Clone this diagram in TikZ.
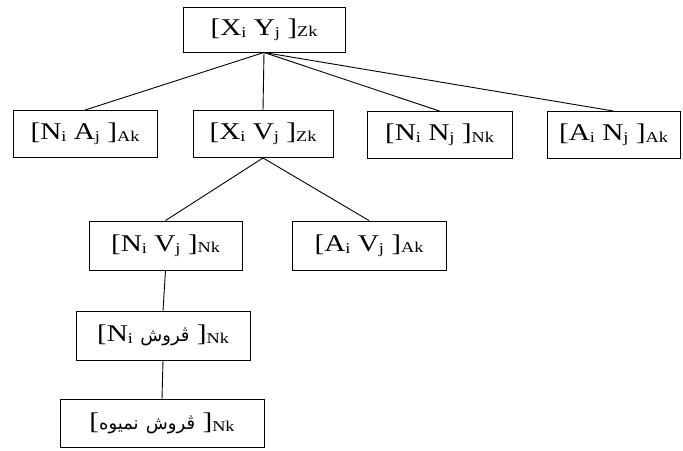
\documentclass[tikz,border=0pt]{standalone}
\usepackage{fontspec}
\setmainfont{Liberation Serif}[FakeStretch=1.22]
\newfontfamily\arabicfont[Script=Arabic]{DejaVu Sans}
\TeXXeTstate=1
\newcommand\lo[1]{\raisebox{-2pt}{\fontsize{15}{15}\selectfont #1}}
\newcommand\lk[1]{\raisebox{-1.5pt}{\fontsize{15}{15}\selectfont #1}}
\newcommand\ar[1]{{\arabicfont\fontsize{18}{18}\selectfont\beginR #1\endR}}
\begin{document}
\begin{tikzpicture}[x=1pt,y=1pt,
  box/.style={draw,line width=0.9pt,inner sep=0pt,minimum height=47pt,font=\fontsize{24}{26}\selectfont},
  conn/.style={line width=0.9pt}]
\useasboundingbox (0,0) rectangle (683,-450);
\node[box,minimum width=162pt,minimum height=45pt] (top) at (264,-29.5) {[X\lo{i} Y\lo{j} ]\lk{Zk}};
\node[box,minimum width=144pt] (na) at (85,-134) {[N\lo{i} A\lo{j} ]\lk{Ak}};
\node[box,minimum width=140pt] (xv) at (263,-134) {[X\lo{i} V\lo{j} ]\lk{Zk}};
\node[box,minimum width=145pt] (nn) at (439.5,-135) {[N\lo{i} N\lo{j} ]\lk{Nk}};
\node[box,minimum width=133pt] (an) at (613.5,-135) {[A\lo{i} N\lo{j} ]\lk{Ak}};
\node[box,minimum width=153pt,minimum height=49pt] (nv) at (165.5,-245.5) {[N\lo{i} V\lo{j} ]\lk{Nk}};
\node[box,minimum width=154pt,minimum height=49pt] (av) at (369,-245.5) {[A\lo{i} V\lo{j} ]\lk{Ak}};
\node[box,minimum width=174pt,minimum height=49pt] (nf) at (163,-335.5) {[N\lo{i} \ar{ڤروش} ]\lk{Nk}};
\node[box,minimum width=204pt,minimum height=48pt] (nm) at (162,-423.5) {[\ar{نمیوه} \ar{ڤروش} ]\lk{Nk}};
\draw[conn] (top.south) -- (na.north);
\draw[conn] (top.south) -- (xv.north);
\draw[conn] (top.south) -- (nn.north);
\draw[conn] (top.south) -- (an.north);
\draw[conn] (xv.south) -- (nv.north);
\draw[conn] (xv.south) -- (av.north);
\draw[conn] (nv.south) -- (nf.north);
\draw[conn] (nf.south) -- (nm.north);
\end{tikzpicture}
\end{document}
